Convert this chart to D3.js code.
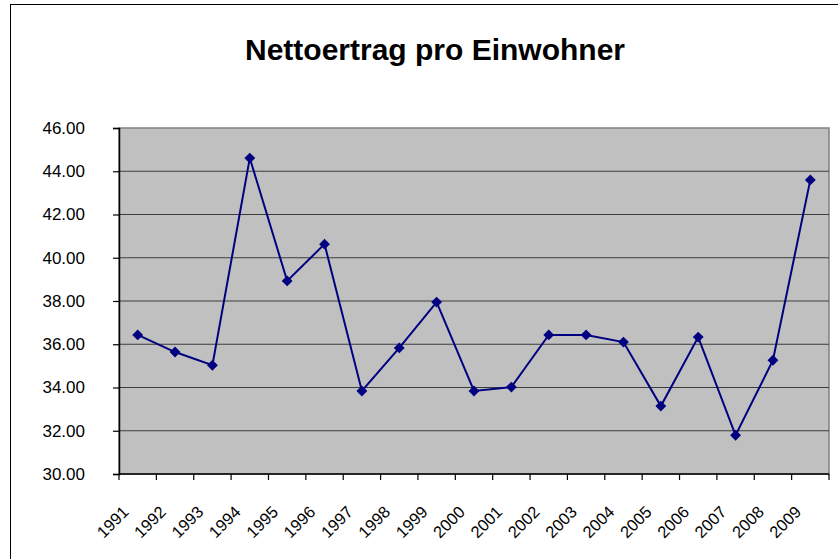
<!DOCTYPE html>
<html>
<head>
<meta charset="utf-8">
<script src="https://cdn.jsdelivr.net/npm/d3@7"></script>
<style>
  body { margin: 0; background: #fff; }
  text { font-family: Arial, "Liberation Sans", sans-serif; }
</style>
</head>
<body>
<div id="chart"></div>
<script>
// years and values
var years = ["1991","1992","1993","1994","1995","1996","1997","1998","1999","2000",
             "2001","2002","2003","2004","2005","2006","2007","2008","2009"];
var values = [36.43, 35.64, 35.03, 44.61, 38.93, 40.63, 33.84, 35.83, 37.95, 33.84,
              34.02, 36.43, 36.43, 36.10, 33.14, 36.33, 31.79, 35.26, 43.60];
var yTicks = [30, 32, 34, 36, 38, 40, 42, 44, 46];

var W = 838, H = 559;
var m = { left: 119, top: 128, right: 829, bottom: 474 };

var svg = d3.select("#chart").append("svg")
    .attr("width", W)
    .attr("height", H);

// outer chart border
svg.append("rect")
    .attr("x", 10.5).attr("y", 4.5)
    .attr("width", 838).attr("height", 600)
    .attr("fill", "#fff")
    .attr("stroke", "#000")
    .attr("stroke-width", 1);

svg.append("text")
    .attr("x", 435).attr("y", 60)
    .attr("text-anchor", "middle")
    .style("font-size", "30px")
    .style("font-weight", "bold")
    .text("Nettoertrag pro Einwohner");

var x = d3.scaleBand().domain(years).range([m.left, m.right]);
var y = d3.scaleLinear().domain([30, 46]).range([m.bottom, m.top]);

// plot area
svg.append("rect")
    .attr("x", m.left).attr("y", m.top)
    .attr("width", m.right - m.left).attr("height", m.bottom - m.top)
    .attr("fill", "#c0c0c0")
    .attr("stroke", "#808080")
    .attr("stroke-width", 1.5);

// gridlines
svg.selectAll("line.grid")
    .data(yTicks.slice(1, -1))
    .enter().append("line")
    .attr("class", "grid")
    .attr("x1", m.left).attr("x2", m.right)
    .attr("y1", function(d) { return y(d); })
    .attr("y2", function(d) { return y(d); })
    .attr("stroke", "#3c3c3c")
    .attr("stroke-width", 1.2);

// y axis
var yAxis = svg.append("g")
    .attr("transform", "translate(" + m.left + ",0)")
    .call(d3.axisLeft(y).tickValues(yTicks).tickFormat(d3.format(".2f")).tickSize(6).tickPadding(28));
yAxis.select(".domain").attr("stroke", "#000").attr("stroke-width", 1.5);
yAxis.selectAll(".tick line").attr("stroke", "#000").attr("stroke-width", 1.2);
yAxis.selectAll("text").style("font-size", "17px").attr("fill", "#000");

// x axis: ticks on category boundaries
var bounds = years.map(function(d) { return x(d); }).concat([m.right]);
svg.append("line")
    .attr("x1", m.left).attr("x2", m.right)
    .attr("y1", m.bottom).attr("y2", m.bottom)
    .attr("stroke", "#000").attr("stroke-width", 1.5);
svg.selectAll("line.xtick")
    .data(bounds)
    .enter().append("line")
    .attr("class", "xtick")
    .attr("x1", function(d) { return d; }).attr("x2", function(d) { return d; })
    .attr("y1", m.bottom).attr("y2", m.bottom + 6)
    .attr("stroke", "#000").attr("stroke-width", 1.2);

svg.selectAll("text.xlab")
    .data(years)
    .enter().append("text")
    .attr("class", "xlab")
    .attr("text-anchor", "end")
    .style("font-size", "16.5px")
    .attr("transform", function(d) {
      return "translate(" + (x(d) + x.bandwidth() / 2 - 8) + "," + (m.bottom + 39) + ") rotate(-45)";
    })
    .text(function(d) { return d; });

// line
var line = d3.line()
    .x(function(d, i) { return x(years[i]) + x.bandwidth() / 2; })
    .y(function(d) { return y(d); });

svg.append("path")
    .datum(values)
    .attr("d", line)
    .attr("fill", "none")
    .attr("stroke", "#000080")
    .attr("stroke-width", 2);

svg.selectAll("path.pt")
    .data(values)
    .enter().append("path")
    .attr("class", "pt")
    .attr("d", d3.symbol().type(d3.symbolDiamond2).size(75))
    .attr("transform", function(d, i) {
      return "translate(" + (x(years[i]) + x.bandwidth() / 2) + "," + y(d) + ")";
    })
    .attr("fill", "#000080");
</script>
</body>
</html>
